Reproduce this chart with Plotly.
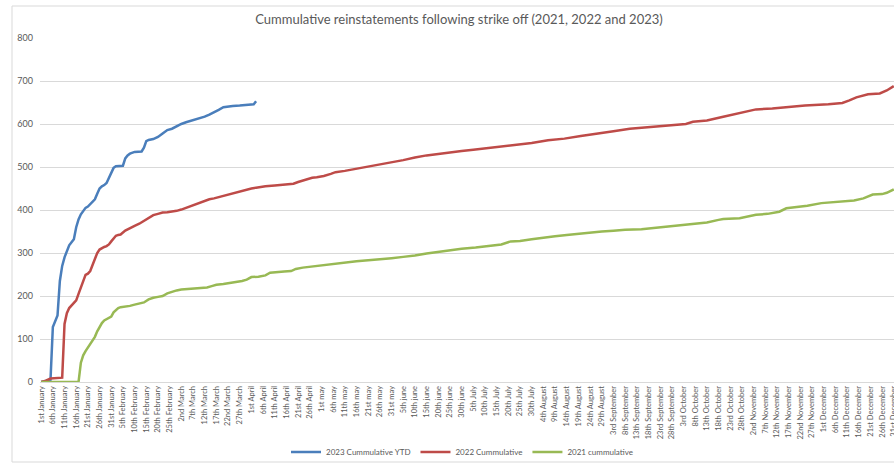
import datetime as dt
import plotly.graph_objects as go

# ---- date column (one row per day; the sheet carries a "31st November" row) ----
MONTH_NAMES = ["January", "February", "March", "April", "may", "june", "July",
               "August", "September", "October", "November", "December"]


def ordinal(n):
    if 10 <= n % 100 <= 20:
        suf = "th"
    else:
        suf = {1: "st", 2: "nd", 3: "rd"}.get(n % 10, "th")
    return f"{n}{suf}"


dates = []
d = dt.date(2022, 1, 1)
while d.year == 2022:
    dates.append(f"{ordinal(d.day)} {MONTH_NAMES[d.month - 1]}")
    if d.month == 11 and d.day == 30:
        dates.append("31st November")
    d += dt.timedelta(days=1)

tick_labels = dates[::5]

# ---- cumulative reinstatements: row in the date column -> running total ----
day_2023 = [0, 2, 4, 5, 6, 7, 8, 9, 10, 11, 12, 13, 14, 15, 16, 17, 18, 19, 20, 21,
            22, 23, 24, 25, 26, 27, 28, 29, 30, 31, 32, 35, 36, 37, 38, 40, 43, 44,
            45, 46, 48, 50, 52, 54, 56, 58, 60, 62, 64, 66, 68, 70, 72, 74, 76, 78,
            80, 82, 85, 88, 90, 91, 92]
val_2023 = [0, 2, 5, 128, 142, 155, 235, 270, 290, 305, 318, 325, 332, 360, 378, 390,
            398, 405, 408, 413, 418, 425, 438, 450, 455, 458, 463, 475, 487, 498, 502,
            503, 520, 527, 531, 535, 536, 545, 560, 563, 565, 570, 578, 586, 589, 595,
            600, 604, 607, 611, 613, 617, 622, 627, 633, 639, 641, 642, 643, 644, 645,
            646, 653]

day_2022 = [0, 2, 4, 8, 9, 10, 11, 12, 13, 14, 15, 16, 17, 18, 19, 20, 21, 22, 23, 24,
            25, 26, 27, 28, 29, 30, 31, 32, 33, 34, 36, 38, 40, 42, 44, 46, 48, 50, 52,
            54, 56, 58, 60, 62, 64, 66, 68, 70, 72, 74, 76, 78, 80, 82, 84, 86, 88, 90,
            92, 94, 96, 100, 104, 108, 110, 112, 114, 116, 118, 121, 124, 126, 130,
            133, 136, 140, 145, 150, 155, 160, 165, 170, 175, 180, 185, 190, 196, 203,
            210, 217, 224, 231, 238, 245, 252, 259, 266, 272, 276, 279, 285, 292, 299,
            306, 313, 320, 327, 337, 343, 346, 349, 354, 359, 362, 365]
val_2022 = [0, 3, 8, 9, 10, 135, 160, 172, 178, 182, 190, 205, 220, 235, 249, 252, 258,
            272, 285, 300, 308, 312, 314, 316, 320, 327, 333, 340, 342, 343, 352, 358,
            363, 368, 375, 382, 388, 391, 394, 395, 396, 398, 401, 405, 408, 413, 417,
            420, 425, 427, 430, 433, 436, 439, 442, 445, 447, 450, 452, 454, 455, 457,
            459, 461, 465, 468, 472, 475, 476, 479, 484, 488, 491, 494, 497, 500, 505,
            510, 516, 522, 527, 530, 534, 537, 540, 543, 546, 551, 556, 562, 566, 572,
            577, 583, 589, 592, 596, 598, 600, 605, 608, 617, 625, 634, 636, 640, 643,
            646, 649, 655, 662, 669, 671, 678, 688]

day_2021 = [0, 16, 17, 18, 19, 20, 21, 22, 23, 24, 25, 26, 27, 28, 29, 30, 31, 32, 33,
            34, 36, 38, 40, 42, 44, 46, 48, 50, 52, 54, 56, 58, 60, 62, 65, 68, 71, 73,
            75, 78, 81, 84, 86, 88, 90, 93, 96, 98, 101, 104, 107, 109, 112, 115, 118,
            121, 125, 130, 135, 140, 145, 150, 155, 160, 165, 170, 175, 180, 186, 192,
            197, 201, 205, 210, 215, 220, 225, 230, 235, 240, 245, 250, 257, 262, 267,
            272, 276, 280, 285, 290, 292, 299, 303, 306, 311, 316, 319, 323, 328, 334,
            340, 344, 348, 352, 356, 360, 362, 365]
val_2021 = [0, 0, 45, 62, 72, 80, 88, 95, 105, 118, 128, 137, 143, 146, 148, 152, 162,
            168, 172, 174, 175, 177, 180, 182, 185, 192, 196, 198, 200, 206, 210, 213,
            215, 216, 217, 218, 220, 223, 226, 228, 230, 233, 235, 238, 244, 245, 248,
            254, 256, 257, 258, 263, 266, 268, 270, 272, 274, 279, 281, 283, 285, 288,
            291, 294, 299, 303, 306, 310, 313, 317, 320, 327, 328, 332, 336, 339, 342,
            345, 348, 350, 352, 354, 355, 358, 361, 363, 365, 369, 371, 377, 379, 381,
            385, 389, 391, 396, 404, 406, 410, 416, 418, 419, 422, 427, 436, 437, 440,
            448]

series = [
    ("2023 Cummulative YTD", day_2023, val_2023, "#4a7ebb"),
    ("2022 Cummulative", day_2022, val_2022, "#be4b48"),
    ("2021 cummulative", day_2021, val_2021, "#98b954"),
]

GREY = "#595959"
FONT = "Lato, 'Open Sans', sans-serif"

fig = go.Figure()
for name, days, vals, colour in series:
    fig.add_trace(go.Scatter(
        x=[dates[i] for i in days], y=vals, name=name, mode="lines",
        line=dict(color=colour, width=2.5, shape="linear"),
    ))

W, H = 894, 463
ML, MR, MT, MB = 40, 0, 38, 81
plot_w, plot_h = W - ML - MR, H - MT - MB

fig.update_layout(
    width=W, height=H,
    margin=dict(l=ML, r=MR, t=MT, b=MB, pad=0, autoexpand=False),
    paper_bgcolor="white", plot_bgcolor="white",
    font=dict(family=FONT, color=GREY, size=9),
    title=dict(
        text="Cummulative reinstatements following strike off (2021, 2022 and 2023)",
        x=(459 - ML) / plot_w, xref="paper", xanchor="center",
        y=1 - 19 / H, yref="container", yanchor="middle",
        font=dict(family=FONT, size=13, color=GREY),
    ),
    showlegend=True,
    legend=dict(
        orientation="h", x=(462 - ML) / plot_w, xanchor="center",
        y=1 - 452 / H, yref="container", yanchor="middle",
        font=dict(family=FONT, size=8, color=GREY),
        bgcolor="rgba(0,0,0,0)", itemwidth=30, tracegroupgap=0,
    ),
    xaxis=dict(
        type="category", categoryorder="array", categoryarray=dates,
        range=[-0.5, 365.1], tickmode="array", tickvals=tick_labels,
        ticktext=tick_labels, tickangle=-90, showgrid=False, automargin=False,
        showline=True, linecolor="#d9d9d9", linewidth=1, ticks="",
        tickfont=dict(family=FONT, size=7.5, color=GREY), fixedrange=True,
    ),
    yaxis=dict(
        range=[0, 800], dtick=100, showgrid=True, gridcolor="#d9d9d9",
        gridwidth=1, zeroline=False, showline=False, ticks="", automargin=False,
        ticklabelstandoff=6,
        tickfont=dict(family=FONT, size=9, color=GREY), fixedrange=True,
    ),
    shapes=[dict(
        type="rect", xref="paper", yref="paper", layer="below",
        x0=(12 - ML) / plot_w, x1=1.05,
        y0=-(462 - (H - MB)) / plot_h, y1=(H - MB - 6) / plot_h,
        line=dict(color="#d9d9d9", width=1), fillcolor="rgba(0,0,0,0)",
    )],
)

fig.write_html("out.html", include_plotlyjs=True, full_html=True,
               config={"displayModeBar": False})
